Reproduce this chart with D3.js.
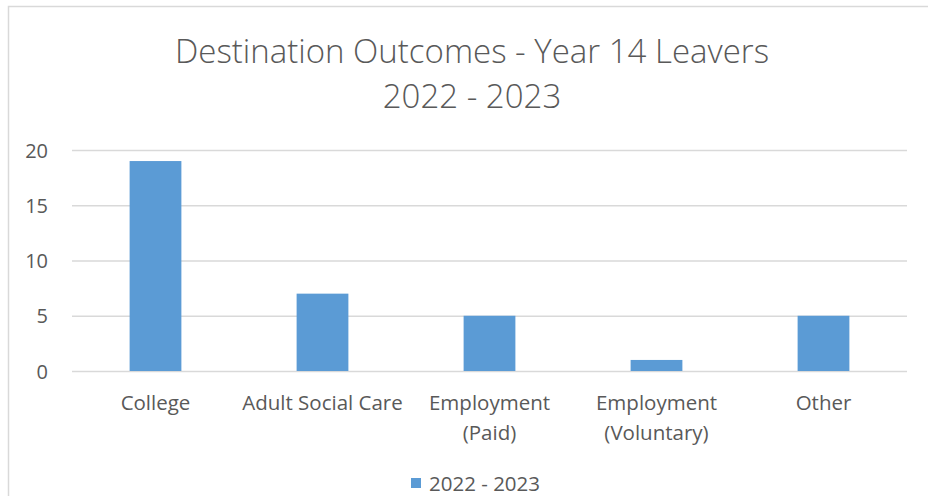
<!DOCTYPE html>
<html><head><meta charset="utf-8">
<script src="https://cdn.jsdelivr.net/npm/d3@7"></script>
<style>body{margin:0;background:#fff}svg{display:block}text{font-family:"Open Sans",Lato,sans-serif;fill:#595959}</style>
</head><body><svg id="c" width="928" height="496"></svg>
<script>
const categories = [["College"],["Adult Social Care"],["Employment","(Paid)"],["Employment","(Voluntary)"],["Other"]];
const values = [19, 7, 5, 1, 5];
const yTicks = [0, 5, 10, 15, 20];
const titleLines = ["Destination Outcomes - Year 14 Leavers", "2022 - 2023"];
const seriesName = "2022 - 2023";

const svg = d3.select("#c");
const color = "#5B9BD5";
// chart border
svg.append("path").attr("d","M8.5,500V6.5H930").attr("fill","none").attr("stroke","#d9d9d9").attr("stroke-width",1.5);

const m = {l:72, r:907, t:150, b:371};
const x = d3.scaleBand().domain(d3.range(categories.length)).range([m.l, m.r]).paddingInner(0.69).paddingOuter(0.345);
const y = d3.scaleLinear().domain([0,20]).range([m.b, m.t]);

// gridlines
svg.append("g").selectAll("line").data(yTicks).join("line")
  .attr("x1", m.l).attr("x2", m.r).attr("y1", d=>y(d)+0.5).attr("y2", d=>y(d)+0.5)
  .attr("stroke","#d9d9d9").attr("stroke-width",1.5);

// y tick labels
const yAxis = d3.axisLeft(y).tickValues(yTicks).tickSize(0).tickPadding(0);
const ya = svg.append("g").attr("transform",`translate(48,0)`).call(yAxis);
ya.select(".domain").remove();
ya.selectAll("text").style("font-size","20px").style("font-family","'Open Sans'").attr("fill","#595959").attr("dy","0.36em");

// bars
svg.append("g").selectAll("rect").data(values).join("rect")
  .attr("x",(d,i)=>x(i)).attr("width",x.bandwidth())
  .attr("y",d=>y(d)).attr("height",d=>y(0)-y(d)).attr("fill",color);

// x labels
const xl = svg.append("g").selectAll("text").data(categories).join("text")
  .attr("x",(d,i)=>x(i)+x.bandwidth()/2).attr("y",410)
  .attr("text-anchor","middle").style("font-size","20.5px");
xl.each(function(d){
  const t = d3.select(this);
  d.forEach((s,j)=>t.append("tspan").attr("x",t.attr("x")).attr("dy", j?30:0).text(s));
});

// title
svg.append("g").selectAll("text").data(titleLines).join("text")
  .attr("x",472).attr("y",(d,i)=>63+i*45).attr("text-anchor","middle")
  .style("font-size","33px").style("font-weight","300").text(d=>d);

// legend
svg.append("rect").attr("x",411).attr("y",478).attr("width",10).attr("height",10).attr("fill",color);
svg.append("text").attr("x",429).attr("y",491).style("font-size","20.5px").text(seriesName);
</script></body></html>
